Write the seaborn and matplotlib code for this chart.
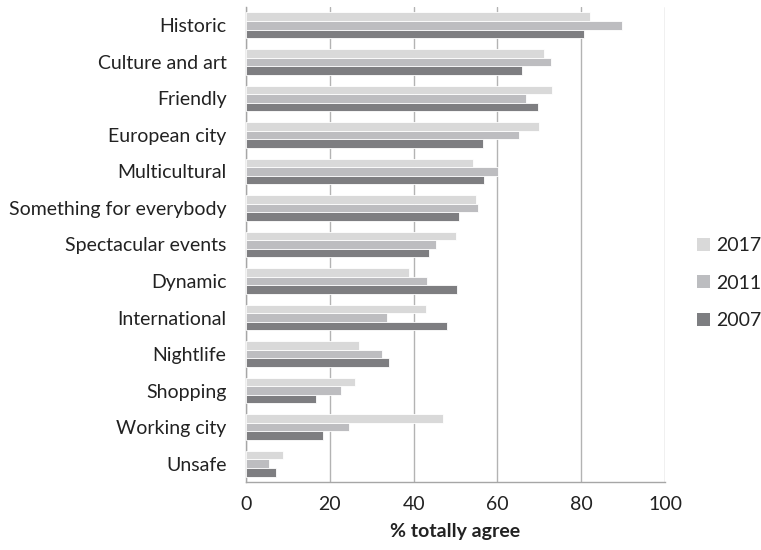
import matplotlib
matplotlib.use("Agg")
import matplotlib.pyplot as plt
import seaborn as sns
import pandas as pd
import numpy as np
from matplotlib.patches import Patch

categories = ["Historic", "Culture and art", "Friendly", "European city", "Multicultural",
              "Something for everybody", "Spectacular events", "Dynamic", "International",
              "Nightlife", "Shopping", "Working city", "Unsafe"]
v2017 = [82.1, 71.1, 73.1, 70.0, 54.1, 55.0, 50.0, 39.0, 43.0, 27.0, 26.0, 47.0, 8.9]
v2011 = [89.7, 72.9, 66.8, 65.1, 60.2, 55.3, 45.4, 43.1, 33.6, 32.4, 22.6, 24.7, 5.5]
v2007 = [80.6, 65.8, 69.7, 56.6, 56.7, 50.8, 43.7, 50.4, 48.0, 34.1, 16.7, 18.4, 7.1]
years = ["2017", "2011", "2007"]
colors = ["#d9d9d9", "#bcbdc0", "#7d7e81"]

rows = []
for yr, vals in zip(years, [v2017, v2011, v2007]):
    for c, v in zip(categories, vals):
        rows.append({"category": c, "year": yr, "value": v})
df = pd.DataFrame(rows)

sns.set_style("white")
plt.rcParams["font.family"] = ["Lato", "DejaVu Sans"]

FS = 14

fig = plt.figure(figsize=(7.61, 5.50), dpi=100)
ax = fig.add_axes([246 / 761, 1 - 482 / 550, (665 - 246) / 761, (482 - 7) / 550])

sns.barplot(data=df, y="category", x="value", hue="year", hue_order=years,
            order=categories, palette=colors, orient="h", width=0.7,
            edgecolor="white", linewidth=0.6, ax=ax, legend=False, zorder=3)

ax.set_xlim(0, 100)
ax.set_ylim(len(categories) - 0.5, -0.5)
ax.set_xticks([0, 20, 40, 60, 80, 100])
ax.xaxis.grid(True, color="#b3b3b3", linewidth=1.0, zorder=0)
ax.yaxis.grid(False)
ax.set_axisbelow(True)

for s in ["top", "right"]:
    ax.spines[s].set_visible(False)
for s in ["left", "bottom"]:
    ax.spines[s].set_color("#a6a6a6")
    ax.spines[s].set_linewidth(1.0)

ax.tick_params(axis="y", which="major", length=0, pad=14, labelsize=FS, labelcolor="#222222")
ax.set_yticks(np.arange(-0.5, len(categories), 1.0), minor=True)
ax.tick_params(axis="y", which="minor", length=5, color="#a6a6a6", direction="out")
ax.tick_params(axis="x", which="major", length=5, color="#a6a6a6", direction="out",
               labelsize=FS, labelcolor="#222222", pad=5)

ax.set_ylabel("")
ax.set_xlabel("% totally agree", fontsize=FS, fontweight="bold", color="#222222", labelpad=7)

handles = [Patch(facecolor=c, edgecolor="none") for c in colors]
fig.legend(handles, years, loc="center left", bbox_to_anchor=(697 / 761, 1 - 283 / 550),
           frameon=False, fontsize=FS, handlelength=0.65, handleheight=0.65,
           handletextpad=0.35, labelspacing=1.05, labelcolor="#222222", borderpad=0,
           borderaxespad=0)

fig.savefig("out.png", dpi=100)
